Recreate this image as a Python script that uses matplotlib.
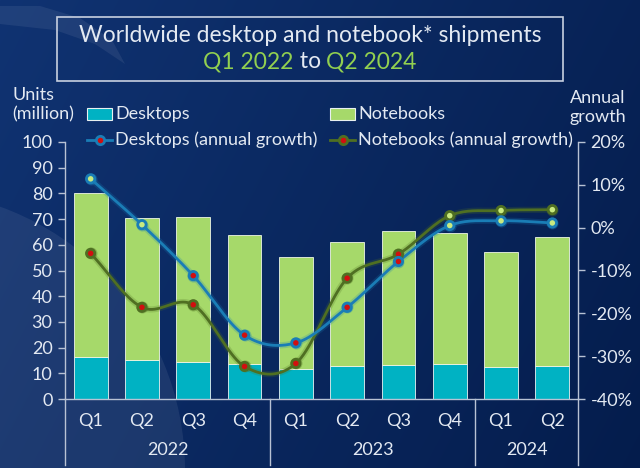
import numpy as np
import matplotlib
matplotlib.use("Agg")
import matplotlib.pyplot as plt
from matplotlib.patches import Rectangle, Ellipse, Polygon
from matplotlib.lines import Line2D

# ---------------- data ----------------
quarters = ["Q1", "Q2", "Q3", "Q4", "Q1", "Q2", "Q3", "Q4", "Q1", "Q2"]
years = ["2022", "2023", "2024"]
year_sizes = [4, 4, 2]
desktops = [16.5, 15.2, 14.4, 13.6, 11.8, 12.8, 13.2, 13.6, 12.3, 12.8]
notebooks = [63.8, 55.1, 56.3, 50.1, 43.6, 48.2, 52.3, 51.1, 45.0, 50.1]
desk_growth = [11.4, 0.7, -11.2, -25.1, -26.9, -18.6, -7.9, 0.5, 1.6, 1.1]
note_growth = [-6.0, -18.6, -18.0, -32.4, -31.7, -11.8, -6.2, 2.8, 4.0, 4.2]
left_ticks = [0, 10, 20, 30, 40, 50, 60, 70, 80, 90, 100]
right_ticks = [-40, -30, -20, -10, 0, 10, 20]

# ---------------- style ----------------
FONT = "Lato"
TXT = "#e3e9f2"
GREEN_T = "#92d050"
C_DESK = "#00b2c3"
C_NOTE = "#a6d96a"
L_DESK = "#1a7db6"
L_NOTE = "#4f6f22"
M_NEG = "#d10f0f"
M_POS = "#c8ea80"
SPINE = "#b8c2d4"
FS = 13

W, H = 640, 468
fig = plt.figure(figsize=(W / 100, H / 100), dpi=100)

# background gradient
bg = fig.add_axes([0, 0, 1, 1])
bg.set_xlim(0, W)
bg.set_ylim(H, 0)
bg.axis("off")
yy, xx = np.mgrid[0:H, 0:W]
t = (xx / W) * 0.65 + (yy / H) * 0.25
c0 = np.array([0x10, 0x33, 0x72]) / 255
c1 = np.array([0x03, 0x1a, 0x48]) / 255
img = c0[None, None, :] * (1 - t[..., None]) + c1[None, None, :] * t[..., None]
bg.imshow(img, extent=[0, W, H, 0], aspect="auto", zorder=0)
# lighter disc bottom-left
bg.add_patch(Ellipse((-95, 470), 560, 560, facecolor="white", alpha=0.07,
                     edgecolor="none", zorder=1))
# top-left swoosh
sw = Polygon([(0, 6), (40, 6), (80, 18), (112, 40), (125, 64), (95, 44),
              (55, 30), (0, 24)], closed=True, facecolor="white", alpha=0.07,
             edgecolor="none", zorder=1)
bg.add_patch(sw)

# title box
bg.add_patch(Rectangle((57, 17), 506, 64, facecolor="none", edgecolor="#c8d0e0",
                       linewidth=1.2, zorder=2))
bg.text(310, 36, "Worldwide desktop and notebook* shipments", color=TXT,
        fontsize=16.5, family=FONT, ha="center", va="center", zorder=3)
# second line with mixed colours
parts = [("Q1 2022", GREEN_T), (" to ", TXT), ("Q2 2024", GREEN_T)]
fig.canvas.draw()
r = fig.canvas.get_renderer()
widths = []
tmp_texts = []
for s, c in parts:
    tt = bg.text(0, 0, s, fontsize=16.5, family=FONT)
    widths.append(tt.get_window_extent(r).width)
    tmp_texts.append(tt)
for tt in tmp_texts:
    tt.remove()
total = sum(widths)
x0 = 310 - total / 2
for (s, c), w in zip(parts, widths):
    bg.text(x0, 62, s, color=c, fontsize=16.5, family=FONT, ha="left",
            va="center", zorder=3)
    x0 += w

# axis titles
bg.text(12, 95, "Units", color=TXT, fontsize=FS, family=FONT,
        ha="left", va="center")
bg.text(12, 114, "(million)", color=TXT, fontsize=FS, family=FONT,
        ha="left", va="center")
bg.text(598, 98, "Annual", color=TXT, fontsize=FS, family=FONT,
        ha="center", va="center")
bg.text(598, 117, "growth", color=TXT, fontsize=FS, family=FONT,
        ha="center", va="center")

# ---------------- main axes ----------------
L, R, T, B = 65, 578, 142, 399
ax = fig.add_axes([L / W, 1 - B / H, (R - L) / W, (B - T) / H])
ax.set_facecolor("none")
x = np.arange(len(quarters))
bw = 0.66
ax.bar(x, desktops, bw, color=C_DESK, edgecolor="#e8f4f4", linewidth=0.6,
       zorder=2, label="Desktops")
ax.bar(x, notebooks, bw, bottom=desktops, color=C_NOTE, edgecolor="#eef6e6",
       linewidth=0.6, zorder=2, label="Notebooks")
ax.set_xlim(-0.5, len(quarters) - 0.5)
ax.set_ylim(0, 100)
ax.set_yticks(left_ticks)
ax.set_yticklabels([str(v) for v in left_ticks], color=TXT, fontsize=FS,
                   family=FONT)
ax.tick_params(axis="y", colors=SPINE, labelcolor=TXT, length=5, width=1,
               direction="out", pad=4)
ax.set_xticks([])
for s in ["top", "right"]:
    ax.spines[s].set_visible(False)
for s in ["left", "bottom"]:
    ax.spines[s].set_color(SPINE)
    ax.spines[s].set_linewidth(1)

ax2 = ax.twinx()
ax2.set_ylim(-40, 20)
ax2.set_yticks(right_ticks)
ax2.set_yticklabels([f"{v}%" for v in right_ticks], color=TXT, fontsize=FS,
                    family=FONT)
ax2.tick_params(axis="y", colors=SPINE, labelcolor=TXT, length=5, width=1,
                direction="out", pad=4)
for s in ["top", "left", "bottom"]:
    ax2.spines[s].set_visible(False)
ax2.spines["right"].set_color(SPINE)
ax2.spines["right"].set_linewidth(1)


def smooth(xs, ys, n=20):
    xs = np.asarray(xs, float)
    ys = np.asarray(ys, float)
    px = np.concatenate([[2 * xs[0] - xs[1]], xs, [2 * xs[-1] - xs[-2]]])
    py = np.concatenate([[ys[0]], ys, [ys[-1]]])
    py[0] = 2 * ys[0] - ys[1]
    py[-1] = 2 * ys[-1] - ys[-2]
    ox, oy = [], []
    for i in range(1, len(px) - 2):
        p0x, p1x, p2x, p3x = px[i - 1:i + 3]
        p0y, p1y, p2y, p3y = py[i - 1:i + 3]
        b1x, b1y = p1x + (p2x - p0x) / 6, p1y + (p2y - p0y) / 6
        b2x, b2y = p2x - (p3x - p1x) / 6, p2y - (p3y - p1y) / 6
        if i == 1:
            b1x, b1y = p1x + (p2x - p1x) / 3, p1y + (p2y - p1y) / 3
        if i == len(px) - 3:
            b2x, b2y = p2x - (p2x - p1x) / 3, p2y - (p2y - p1y) / 3
        tt = np.linspace(0, 1, n, endpoint=(i == len(px) - 3))
        ox.append((1 - tt) ** 3 * p1x + 3 * (1 - tt) ** 2 * tt * b1x
                  + 3 * (1 - tt) * tt ** 2 * b2x + tt ** 3 * p2x)
        oy.append((1 - tt) ** 3 * p1y + 3 * (1 - tt) ** 2 * tt * b1y
                  + 3 * (1 - tt) * tt ** 2 * b2y + tt ** 3 * p2y)
    return np.concatenate(ox), np.concatenate(oy)


for vals, col in [(note_growth, L_NOTE), (desk_growth, L_DESK)]:
    sx, sy = smooth(x, vals)
    ax2.plot(sx, sy, color=col, linewidth=4.5, alpha=0.22, zorder=3,
             solid_capstyle="round")
    ax2.plot(sx, sy, color=col, linewidth=2.0, zorder=4)
    fills = [M_NEG if v < 0 else M_POS for v in vals]
    ax2.scatter(x, vals, s=75, color=col, alpha=0.35, zorder=5, linewidths=0)
    ax2.scatter(x, vals, s=36, facecolor=fills, edgecolor=col, linewidths=2,
                zorder=6)

# category labels and separators
ytr = ax.get_xaxis_transform()
for i, q in enumerate(quarters):
    ax.text(i, -0.085, q, transform=ytr, color=TXT, fontsize=FS, family=FONT,
            ha="center", va="center")
start = 0
bounds = [0]
for name, n in zip(years, year_sizes):
    ax.text(start + n / 2 - 0.5, -0.2, name, transform=ytr, color=TXT,
            fontsize=FS, family=FONT, ha="center", va="center")
    start += n
    bounds.append(start)
for b in bounds:
    ax.add_line(Line2D([b - 0.5, b - 0.5], [0, -0.255], transform=ytr,
                       color=SPINE, linewidth=1, clip_on=False))

# legend (manual)
def leg_patch(x0, y0, col, label):
    bg.add_patch(Rectangle((x0, y0 - 6), 25, 12, facecolor=col,
                           edgecolor="#e8f0f0", linewidth=0.8, zorder=3))
    bg.text(x0 + 28, y0, label, color=TXT, fontsize=FS, family=FONT,
            ha="left", va="center", zorder=3)


def leg_line(x0, y0, col, label):
    bg.plot([x0, x0 + 25], [y0, y0], color=col, linewidth=2.0, zorder=3)
    bg.scatter([x0 + 12.5], [y0], s=36, facecolor=M_NEG, edgecolor=col,
               linewidths=2, zorder=4)
    bg.text(x0 + 28, y0, label, color=TXT, fontsize=FS, family=FONT,
            ha="left", va="center", zorder=3)


leg_patch(87, 114, C_DESK, "Desktops")
leg_patch(330, 114, C_NOTE, "Notebooks")
leg_line(87, 140, L_DESK, "Desktops (annual growth)")
leg_line(330, 140, L_NOTE, "Notebooks (annual growth)")

fig.savefig("out.png", dpi=100)
